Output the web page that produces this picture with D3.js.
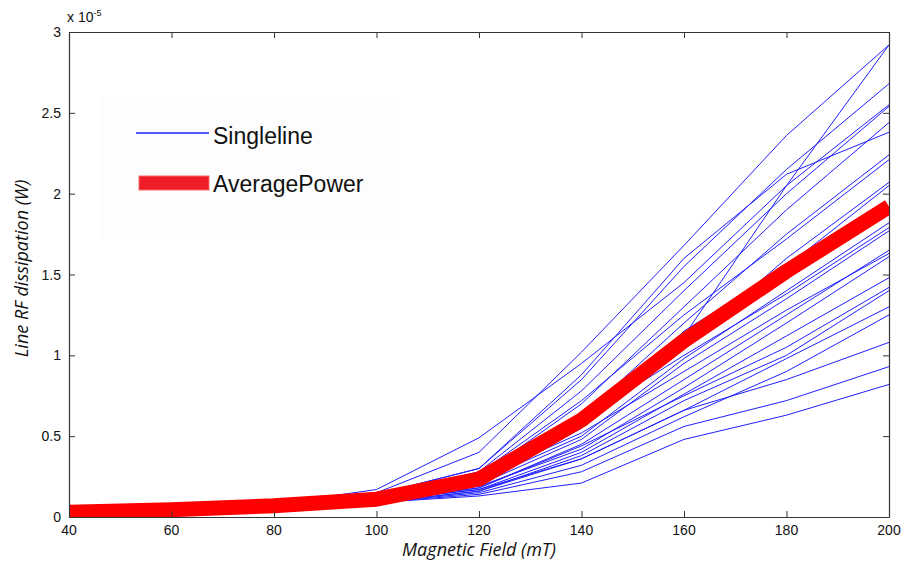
<div id="chart"></div>

<script src="https://d3js.org/d3.v7.min.js"></script>

<style>
body { margin: 0; background: #fff; }
.tick-lbl { font: 14px 'Liberation Sans', Arial, sans-serif; fill: #111; }
.xtick-lbl { font: 14px 'Liberation Sans Narrow', 'Liberation Sans', Arial, sans-serif; fill: #111; }
.axis-title { font: italic 18px 'Open Sans', 'Noto Sans', sans-serif; fill: #111; }
.legend-txt { font: 23px 'Liberation Sans', Arial, sans-serif; fill: #111; }
</style>

<script>
// magnetic field values (mT)
const fieldValues = [40, 60, 80, 100, 120, 140, 160, 180, 200];
const xTicks = [40, 60, 80, 100, 120, 140, 160, 180, 200];
const yTicks = [0, 0.5, 1, 1.5, 2, 2.5, 3];

// each single line, power in units of 1e-5 W
const singleLines = [
  [0.02, 0.04, 0.08, 0.15, 0.40, 1.02, 1.68, 2.36, 2.92],
  [0.02, 0.04, 0.08, 0.12, 0.22, 0.55, 1.12, 2.05, 2.92],
  [0.02, 0.04, 0.08, 0.14, 0.30, 0.85, 1.55, 2.15, 2.68],
  [0.02, 0.04, 0.08, 0.17, 0.49, 0.95, 1.45, 2.05, 2.55],
  [0.02, 0.04, 0.08, 0.13, 0.28, 0.78, 1.40, 2.00, 2.54],
  [0.02, 0.04, 0.07, 0.12, 0.25, 0.70, 1.30, 1.90, 2.44],
  [0.02, 0.04, 0.08, 0.14, 0.30, 0.88, 1.60, 2.12, 2.38],
  [0.02, 0.04, 0.07, 0.12, 0.24, 0.62, 1.20, 1.75, 2.24],
  [0.02, 0.04, 0.07, 0.13, 0.27, 0.72, 1.25, 1.72, 2.21],
  [0.02, 0.04, 0.07, 0.11, 0.22, 0.58, 1.05, 1.60, 2.07],
  [0.02, 0.04, 0.07, 0.12, 0.20, 0.55, 1.15, 1.55, 2.05],
  [0.02, 0.04, 0.07, 0.11, 0.22, 0.50, 0.98, 1.40, 1.82],
  [0.02, 0.04, 0.07, 0.12, 0.25, 0.60, 1.00, 1.38, 1.79],
  [0.02, 0.04, 0.07, 0.11, 0.20, 0.48, 0.95, 1.35, 1.77],
  [0.02, 0.04, 0.06, 0.10, 0.18, 0.45, 0.85, 1.25, 1.65],
  [0.02, 0.04, 0.07, 0.11, 0.24, 0.52, 0.90, 1.28, 1.63],
  [0.02, 0.04, 0.06, 0.10, 0.19, 0.42, 0.80, 1.20, 1.61],
  [0.02, 0.04, 0.06, 0.10, 0.17, 0.40, 0.76, 1.12, 1.48],
  [0.02, 0.04, 0.06, 0.10, 0.18, 0.44, 0.75, 1.05, 1.42],
  [0.02, 0.04, 0.06, 0.09, 0.16, 0.38, 0.72, 1.00, 1.40],
  [0.02, 0.04, 0.06, 0.10, 0.17, 0.36, 0.66, 0.98, 1.30],
  [0.02, 0.04, 0.06, 0.09, 0.15, 0.32, 0.62, 0.90, 1.25],
  [0.02, 0.04, 0.06, 0.09, 0.16, 0.36, 0.66, 0.85, 1.08],
  [0.02, 0.04, 0.06, 0.09, 0.14, 0.28, 0.56, 0.72, 0.93],
  [0.02, 0.04, 0.06, 0.09, 0.13, 0.21, 0.48, 0.63, 0.82]
];

const averagePower = [0.03, 0.045, 0.07, 0.11, 0.235, 0.60, 1.09, 1.52, 1.92];

const width = 903, height = 563;
const m = {left: 69, right: 14, top: 32, bottom: 46};
const pw = width - m.left - m.right, ph = height - m.top - m.bottom;

const svg = d3.select('#chart').append('svg')
  .attr('width', width).attr('height', height);

const x = d3.scaleLinear().domain([40, 200]).range([m.left, m.left + pw]);
const y = d3.scaleLinear().domain([0, 3]).range([m.top + ph, m.top]);

svg.append('clipPath').attr('id', 'clip')
  .append('rect').attr('x', m.left).attr('y', m.top).attr('width', pw).attr('height', ph);

// faint legend backdrop
svg.append('rect')
  .attr('x', 100).attr('y', 96).attr('width', 300).attr('height', 142)
  .attr('fill', '#fdfdfd');

const line = d3.line()
  .x((d, i) => x(fieldValues[i]))
  .y(d => y(d));

const plot = svg.append('g').attr('clip-path', 'url(#clip)');

plot.selectAll('.single')
  .data(singleLines)
  .enter().append('path')
  .attr('class', 'single')
  .attr('d', line)
  .attr('fill', 'none')
  .attr('stroke', '#1f1fff')
  .attr('stroke-width', 1);

plot.append('path')
  .attr('d', line(averagePower))
  .attr('fill', 'none')
  .attr('stroke', '#ff0000')
  .attr('stroke-width', 15)
  .attr('stroke-linejoin', 'round');

// axes, matlab style: ticks point inward, box all round
const axisCol = '#333';
const xAxB = svg.append('g').attr('transform', `translate(0,${m.top + ph})`)
  .call(d3.axisBottom(x).tickValues(xTicks).tickSizeInner(-6).tickSizeOuter(0).tickFormat(''));
const xAxT = svg.append('g').attr('transform', `translate(0,${m.top})`)
  .call(d3.axisTop(x).tickValues(xTicks).tickSizeInner(-6).tickSizeOuter(0).tickFormat(''));
const yAxL = svg.append('g').attr('transform', `translate(${m.left},0)`)
  .call(d3.axisLeft(y).tickValues(yTicks).tickSizeInner(-6).tickSizeOuter(0).tickFormat(''));
const yAxR = svg.append('g').attr('transform', `translate(${m.left + pw},0)`)
  .call(d3.axisRight(y).tickValues(yTicks).tickSizeInner(-6).tickSizeOuter(0).tickFormat(''));
[xAxB, xAxT, yAxL, yAxR].forEach(a => {
  a.selectAll('line').attr('stroke', axisCol);
  a.select('.domain').attr('stroke', axisCol).attr('stroke-width', 1.2);
});

// tick labels
svg.selectAll('.xl').data(xTicks).enter().append('text')
  .attr('class', 'xtick-lbl')
  .attr('x', d => x(d)).attr('y', m.top + ph + 18)
  .attr('text-anchor', 'middle')
  .text(d => d);

svg.selectAll('.yl').data(yTicks).enter().append('text')
  .attr('class', 'tick-lbl')
  .attr('x', m.left - 8).attr('y', d => y(d) + 5)
  .attr('text-anchor', 'end')
  .text(d => d);

// exponent
const ex = svg.append('text').attr('class', 'tick-lbl')
  .attr('x', m.left - 2).attr('y', 22);
ex.append('tspan').text('x 10');
ex.append('tspan').attr('dy', -6).style('font-size', '9px').text('-5');

// axis titles
svg.append('text').attr('class', 'axis-title')
  .attr('x', x(120)).attr('y', 556)
  .attr('text-anchor', 'middle')
  .text('Magnetic Field (mT)');

svg.append('text').attr('class', 'axis-title')
  .attr('transform', `translate(28,${m.top + ph / 2 - 6}) rotate(-90)`)
  .attr('text-anchor', 'middle')
  .text('Line RF dissipation (W)');

// legend
svg.append('line')
  .attr('x1', 136).attr('x2', 209).attr('y1', 133).attr('y2', 133)
  .attr('stroke', '#1f1fff').attr('stroke-width', 1.3);
svg.append('text').attr('class', 'legend-txt')
  .attr('x', 213).attr('y', 144).text('Singleline');

svg.append('rect')
  .attr('x', 139).attr('y', 176).attr('width', 70).attr('height', 14)
  .attr('fill', '#ee1c24').attr('stroke', '#f46a6a').attr('stroke-width', 1);
svg.append('text').attr('class', 'legend-txt')
  .attr('x', 213).attr('y', 192).text('AveragePower');
</script>
